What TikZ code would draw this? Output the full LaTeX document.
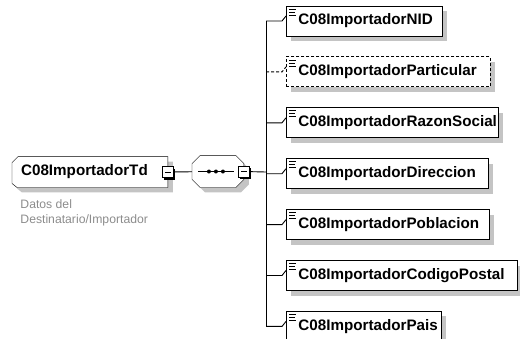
\documentclass[tikz,border=0pt]{standalone}
\usepackage{fontspec}
\setmainfont{Liberation Sans}
\usetikzlibrary{positioning, shadows, backgrounds}
\definecolor{descgray}{HTML}{8C8C8C}
\definecolor{shadowgray}{HTML}{C4C4C4}

\begin{document}
\begin{tikzpicture}[x=1pt, y=-1pt, line width=0.9pt]
        \tikzset{
            shadowed/.style={drop shadow={shadow xshift=5pt, shadow yshift=-5pt, fill=shadowgray, opacity=1}},
            element/.style={rectangle, draw, fill=white, shadowed, inner xsep=0pt, inner ysep=0pt, minimum height=30pt, align=left,
                font=\bfseries\fontsize{15.2pt}{18pt}\selectfont, execute at begin node={\hspace*{12pt}},
                path picture={\draw[solid, line width=0.8pt] ([xshift=3pt, yshift=-3pt]path picture bounding box.north west) -- ++(7pt,0pt)
                    ++(-7pt,-3pt) -- ++(6pt,0pt) ++(-6pt,-3pt) -- ++(7pt,0pt);}},
            optional/.style={element, dash pattern=on 3pt off 2pt},
            complex/.style={rectangle, inner sep=0pt, minimum width=155pt, minimum height=30pt,
                font=\bfseries\fontsize{15.2pt}{18pt}\selectfont},
            sequence/.style={rectangle, inner sep=0pt, minimum width=51pt, minimum height=31pt},
            minusbox/.style={rectangle, draw, fill=white, inner sep=0pt, minimum size=11pt,
                drop shadow={shadow xshift=2pt, shadow yshift=-2pt, fill=black, opacity=1},
                path picture={\draw ([xshift=2.5pt]path picture bounding box.west) -- ([xshift=-2.5pt]path picture bounding box.east);}},
            desc/.style={align=left, inner sep=0pt, text=descgray, font=\fontsize{12.2pt}{15pt}\selectfont}
        }
        \useasboundingbox (0,0) rectangle (520,338);

        % root element and its content model
        \node [complex, anchor=west] (root) at (12,172) {C08ImportadorTd\hspace*{11pt}};
        \node [minusbox] (rootminus) at (root.east) {};
        \node [desc, anchor=north west] (rootdesc) at (20,199.5) {Datos del\\Destinatario/Importador};

        \node [sequence, anchor=west] (seq) at (192,171.5) {};
        \node [minusbox] (seqminus) at (seq.east) {};
        \draw ([xshift=6pt]seq.west) -- ([xshift=-10pt]seq.east);
        \fill ([xshift=-9pt]seq.center) circle (2) ([xshift=-2pt]seq.center) circle (2) ([xshift=5pt]seq.center) circle (2);

        \begin{scope}[on background layer]
            \draw [shadowed, fill=white] ([xshift=6pt]root.north west) -- (root.north east) -- (root.south east) -- ([xshift=5pt]root.south west)
                -- ([yshift=4pt]root.south west) -- ([yshift=-6pt]root.north west) -- cycle;
            \draw [shadowed, fill=white] ([xshift=8pt]seq.north west) -- ([xshift=-8pt]seq.north east) -- ([yshift=-8pt]seq.north east)
                -- ([yshift=8pt]seq.south east) -- ([xshift=-8pt]seq.south east) -- ([xshift=8pt]seq.south west)
                -- ([yshift=8pt]seq.south west) -- ([yshift=-8pt]seq.north west) -- cycle;
        \end{scope}

        \coordinate (fork) at (266,172);

        % children
        \node [element, text width=156pt, anchor=west] (NID) at (286,21) {C08ImportadorNID};
        \node [optional, text width=204pt, below=20pt of NID.south west, anchor=north west] (Particular) {C08ImportadorParticular};
        \node [element, text width=212pt, below=20pt of Particular.south west, anchor=north west] (RazonSocial) {C08ImportadorRazonSocial};
        \node [element, text width=202pt, below=20pt of RazonSocial.south west, anchor=north west] (Direccion) {C08ImportadorDireccion};
        \node [element, text width=203pt, below=20pt of Direccion.south west, anchor=north west] (Poblacion) {C08ImportadorPoblacion};
        \node [element, text width=231pt, below=20pt of Poblacion.south west, anchor=north west] (CodigoPostal) {C08ImportadorCodigoPostal};
        \node [element, text width=155pt, below=20pt of CodigoPostal.south west, anchor=north west] (Pais) {C08ImportadorPais};

        % connectors
        \draw (rootminus) -- (seq);
        \draw (seqminus) -- (fork);
        \draw (fork |- NID.west) -- (fork |- Pais.west);
        \draw (fork |- NID.west) -- ([xshift=-4pt]NID.west) -- ([yshift=5pt]NID.west);
        \draw [dash pattern=on 3pt off 2pt] (fork |- Particular.west) -- ([xshift=-4pt]Particular.west) -- ([yshift=5pt]Particular.west);
        \draw (fork |- RazonSocial.west) -- ([xshift=-4pt]RazonSocial.west) -- ([yshift=5pt]RazonSocial.west);
        \draw (fork |- Direccion.west) -- ([xshift=-4pt]Direccion.west) -- ([yshift=5pt]Direccion.west);
        \draw (fork |- Poblacion.west) -- ([xshift=-4pt]Poblacion.west) -- ([yshift=5pt]Poblacion.west);
        \draw (fork |- CodigoPostal.west) -- ([xshift=-4pt]CodigoPostal.west) -- ([yshift=5pt]CodigoPostal.west);
        \draw (fork |- Pais.west) -- ([xshift=-4pt]Pais.west) -- ([yshift=5pt]Pais.west);
    \end{tikzpicture}
\end{document}
